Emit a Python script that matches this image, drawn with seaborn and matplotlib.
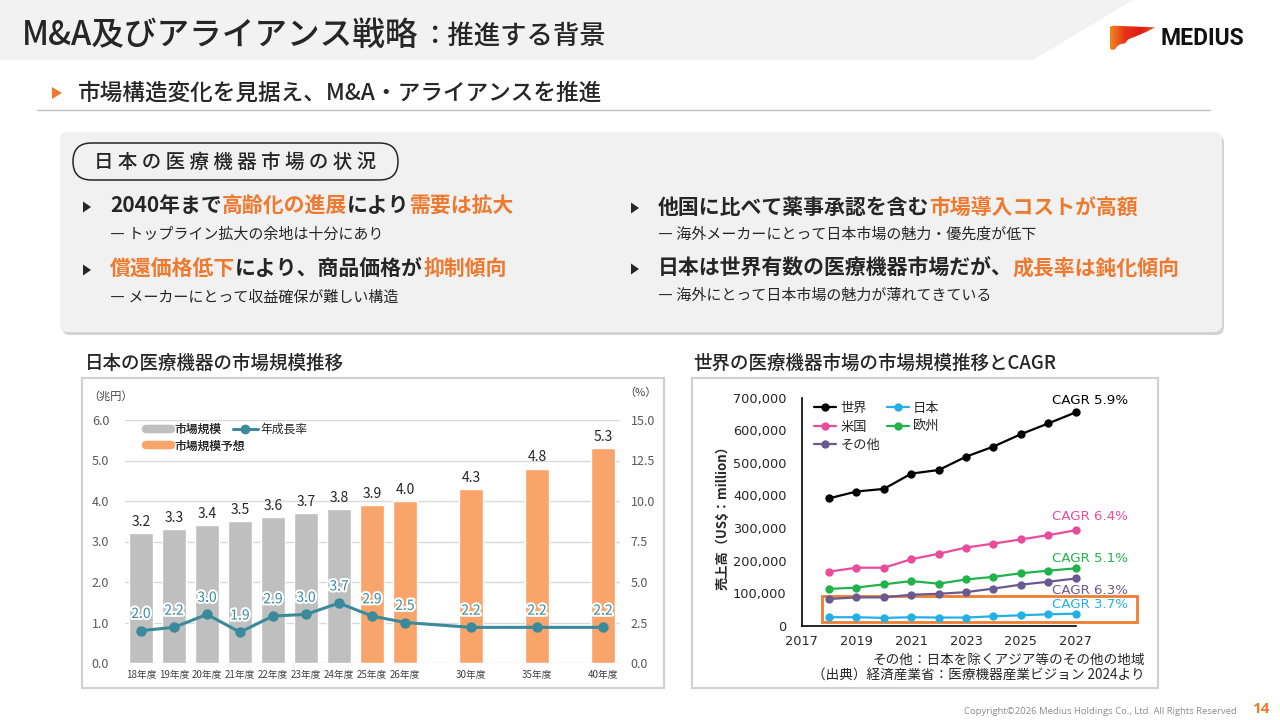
import numpy as np
import pandas as pd
import matplotlib
matplotlib.use("Agg")
import matplotlib.pyplot as plt
import seaborn as sns
from matplotlib.patches import Polygon, FancyBboxPatch, Rectangle
from matplotlib.lines import Line2D
from matplotlib.colors import LinearSegmentedColormap
import matplotlib.patheffects as pe
from matplotlib.ticker import FuncFormatter, FixedLocator

# ---------------- data ----------------
jp_fy_labels = ["18年度", "19年度", "20年度", "21年度", "22年度", "23年度", "24年度",
                "25年度", "26年度", "30年度", "35年度", "40年度"]
jp_market_size = [3.2, 3.3, 3.4, 3.5, 3.6, 3.7, 3.8, 3.9, 4.0, 4.3, 4.8, 5.3]   # 兆円
jp_growth = [2.0, 2.2, 3.0, 1.9, 2.9, 3.0, 3.7, 2.9, 2.5, 2.2, 2.2, 2.2]        # %
jp_kind = ["市場規模"] * 7 + ["市場規模予想"] * 5

world_years = [2018, 2019, 2020, 2021, 2022, 2023, 2024, 2025, 2026, 2027]
world_total = [391000, 412000, 420000, 467000, 478000, 519000, 550000, 588000, 621000, 655000]
us_sales = [166000, 178000, 178000, 204000, 221000, 240000, 252000, 265000, 278000, 293000]
eu_sales = [113000, 117000, 127000, 137000, 129000, 142000, 150000, 161000, 169000, 176000]
other_sales = [82000, 87000, 87000, 95000, 98000, 103000, 114000, 126000, 135000, 145000]
japan_sales = [26000, 26000, 24000, 26000, 25000, 25000, 29000, 32000, 35000, 37000]
region_names = ["世界", "米国", "その他", "日本", "欧州"]
cagr_labels = ["CAGR 5.9%", "CAGR 6.4%", "CAGR 5.1%", "CAGR 6.3%", "CAGR 3.7%"]

# ---------------- layout / style ----------------
bar_slots = [0, 1, 2, 3, 4, 5, 6, 7, 8, 10, 12, 14]
W, H = 1280, 720
ORANGE = "#ee7a30"
DARK = "#262626"
TEAL = "#3a8a9c"
GRAY_BAR = "#bfbfbf"
ORANGE_BAR = "#f8a46a"
region_colors = {"世界": "#000000", "米国": "#ea4c9c", "その他": "#6a5a90",
                 "日本": "#22b0e6", "欧州": "#22b24c"}

sns.set_theme(style="white")
plt.rcParams["font.family"] = ["Noto Sans CJK JP", "DejaVu Sans"]
plt.rcParams["axes.unicode_minus"] = False

fig = plt.figure(figsize=(12.8, 7.2), dpi=100)
fig.patch.set_facecolor("white")
bg = fig.add_axes([0, 0, 1, 1])
bg.set_xlim(0, W)
bg.set_ylim(H, 0)
bg.axis("off")
renderer = fig.canvas.get_renderer()


def rect(x0, y0, x1, y1):
    return [x0 / W, 1 - y1 / H, (x1 - x0) / W, (y1 - y0) / H]


def chain(x, y, parts, **kw):
    for s, color in parts:
        t = bg.text(x, y, s, color=color, va="center", ha="left", **kw)
        bb = t.get_window_extent(renderer=renderer)
        x = bb.x1
    return x


# header band
bg.add_patch(Polygon([(0, 0), (1133, 0), (1033, 60), (0, 60)], closed=True,
                     fc="#f2f2f2", ec="none"))
x_after = chain(22, 35, [("M&A及びアライアンス戦略", DARK)], fontsize=23.5, fontweight=500)
bg.text(x_after + 3, 36, "：推進する背景", fontsize=19, fontweight=500, color=DARK,
        va="center", ha="left")

# logo
logo = Polygon([(1110, 26.7), (1113, 25.7), (1155, 27.3), (1146.7, 31.7), (1136.7, 36),
                (1128.3, 39.3), (1125, 43.3), (1120, 44.3), (1116.7, 46.7), (1115, 49.3),
                (1111.7, 50), (1110, 48.3)], closed=True, fc="none", ec="none")
bg.add_patch(logo)
grad = np.linspace(0, 1, 256).reshape(1, -1)
cm = LinearSegmentedColormap.from_list("lg", ["#f08a1c", "#e8301a", "#e21a14", "#ec5a1e"])
im = bg.imshow(grad, extent=(1110, 1156, 51, 25), cmap=cm, aspect="auto", zorder=2)
im.set_clip_path(logo)
bg.set_xlim(0, W)
bg.set_ylim(H, 0)
bg.text(1160, 38.5, "MEDIUS", fontsize=16.5, fontweight="bold", family="Roboto",
        color="#111111", va="center", ha="left")

# sub heading
bg.add_patch(Polygon([(52, 87), (62, 93), (52, 99)], closed=True, fc=ORANGE, ec="none"))
bg.text(78, 93, "市場構造変化を見据え、M&A・アライアンスを推進", fontsize=16.3, fontweight=500,
        color=DARK, va="center", ha="left")
bg.plot([37, 1210], [110, 110], color="#bfbfbf", lw=1)

# grey information box
bg.add_patch(FancyBboxPatch((62, 135), 1162, 200, boxstyle="round,pad=0,rounding_size=8",
                            fc="#c9c9c9", ec="none", alpha=0.8))
bg.add_patch(FancyBboxPatch((60, 132), 1162, 200, boxstyle="round,pad=0,rounding_size=8",
                            fc="#f1f1f1", ec="none"))
bg.add_patch(FancyBboxPatch((73, 143), 325, 37, boxstyle="round,pad=0,rounding_size=18.5",
                            fc="none", ec=DARK, lw=1.1))
bg.text(235, 162, "日 本 の 医 療 機 器 市 場 の 状 況", fontsize=14, fontweight=500,
        color=DARK, ha="center", va="center")


def tri(x, y):
    bg.add_patch(Polygon([(x, y - 5.5), (x + 8, y), (x, y + 5.5)], closed=True,
                         fc=DARK, ec="none"))


BFS = 15.0
SFS = 10.8
BW = "bold"
tri(83, 207)
chain(110, 206, [("2040年まで", DARK), ("高齢化の進展", ORANGE), ("により", DARK),
                 ("需要は拡大", ORANGE)], fontsize=BFS, fontweight=BW)
bg.text(110, 235, "― トップライン拡大の余地は十分にあり", fontsize=SFS, color=DARK,
        va="center", ha="left")
tri(83, 270)
chain(110, 269, [("償還価格低下", ORANGE), ("により、商品価格が", DARK),
                 ("抑制傾向", ORANGE)], fontsize=BFS, fontweight=BW)
bg.text(110, 298, "― メーカーにとって収益確保が難しい構造", fontsize=SFS, color=DARK,
        va="center", ha="left")

tri(631, 208)
chain(658, 207, [("他国に比べて薬事承認を含む", DARK), ("市場導入コストが高額", ORANGE)],
      fontsize=BFS, fontweight=BW)
bg.text(658, 234, "― 海外メーカーにとって日本市場の魅力・優先度が低下", fontsize=SFS,
        color=DARK, va="center", ha="left")
tri(631, 269)
chain(658, 268, [("日本は世界有数の医療機器市場だが、", DARK), ("成長率は鈍化傾向", ORANGE)],
      fontsize=BFS, fontweight=BW)
bg.text(658, 296, "― 海外にとって日本市場の魅力が薄れてきている", fontsize=SFS,
        color=DARK, va="center", ha="left")

# chart titles and frames
bg.text(85, 363, "日本の医療機器の市場規模推移", fontsize=13.3, fontweight=500, color=DARK,
        va="center", ha="left")
bg.text(693, 363, "世界の医療機器市場の市場規模推移とCAGR", fontsize=13.3, fontweight=500,
        color=DARK, va="center", ha="left")
bg.add_patch(Rectangle((82, 378), 582, 310, fc="white", ec="#d0d0d0", lw=1.5))
bg.add_patch(Rectangle((692, 378), 466, 310, fc="white", ec="#d0d0d0", lw=1.5))

# footer
bg.text(1237, 711, "Copyright©2026 Medius Holdings Co., Ltd. All Rights Reserved", fontsize=6.8,
        color="#8c8c8c", ha="right", va="center", family="Open Sans")
bg.text(1252, 709, "14", fontsize=11, fontweight="bold", color=ORANGE, ha="left",
        va="center", family="Open Sans")

# ---------------- left chart ----------------
ax = fig.add_axes(rect(124.5, 420, 619.5, 663))
ax.set_facecolor("none")
df_jp = pd.DataFrame({"slot": bar_slots, "size": jp_market_size, "kind": jp_kind})
sns.barplot(data=df_jp, x="slot", y="size", hue="kind", native_scale=True, dodge=False,
            width=0.7, palette={"市場規模": GRAY_BAR, "市場規模予想": ORANGE_BAR},
            saturation=1, errorbar=None, legend=False, ax=ax, zorder=2)
for cont in ax.containers:
    ax.bar_label(cont, fmt="%.1f", padding=3, fontsize=10, color=DARK)
ax.set_xlim(-0.5, 14.5)
ax.set_ylim(0, 6)
ax.set_yticks(np.arange(0, 6.01, 1.0))
ax.yaxis.set_major_formatter(FuncFormatter(lambda v, p: f"{v:.1f}"))
ax.set_xticks(bar_slots)
ax.set_xticklabels(jp_fy_labels, fontsize=7, color="#404040")
ax.tick_params(axis="y", length=0, pad=11, labelsize=9, labelcolor="#595959")
ax.tick_params(axis="x", length=0, pad=5)
ax.grid(axis="y", color="#d9d9d9", lw=1, zorder=0)
ax.grid(axis="x", visible=False)
for s in ax.spines.values():
    s.set_visible(False)
ax.set_xlabel("")
ax.set_ylabel("")

ax2 = ax.twinx()
ax2.set_facecolor("none")
sns.lineplot(x=bar_slots, y=jp_growth, ax=ax2, color=TEAL, lw=2.2, marker="o",
             markersize=7.5, markeredgewidth=0, zorder=3)
ax2.set_ylim(0, 15)
ax2.set_yticks(np.arange(0, 15.01, 2.5))
ax2.yaxis.set_major_formatter(FuncFormatter(lambda v, p: f"{v:.1f}"))
ax2.tick_params(axis="y", length=0, pad=8, labelsize=9, labelcolor="#595959")
ax2.grid(False)
for s in ax2.spines.values():
    s.set_visible(False)
for xs, g in zip(bar_slots, jp_growth):
    ax2.annotate(f"{g:.1f}", (xs, g), xytext=(0, 12), textcoords="offset points",
                 ha="center", va="center", fontsize=10, color=TEAL,
                 path_effects=[pe.withStroke(linewidth=3, foreground="white")], zorder=5)
ax.set_xlim(-0.5, 14.5)

bg.text(111, 396, "（兆円）", fontsize=8, color="#404040", ha="center", va="center")
bg.text(640, 393, "（%）", fontsize=8, color="#404040", ha="center", va="center")

leg_top = 1 - (423 - 420) / 243
leg1 = ax.legend(handles=[Line2D([], [], color=GRAY_BAR, lw=6),
                          Line2D([], [], color=ORANGE_BAR, lw=6)],
                 labels=["市場規模", "市場規模予想"], loc="upper left",
                 bbox_to_anchor=((146 - 124.5) / 495, leg_top),
                 frameon=False, fontsize=8.5, handlelength=2.1, handletextpad=0.3,
                 labelspacing=0.3, borderaxespad=0, borderpad=0)
ax.add_artist(leg1)
leg2 = ax2.legend(handles=[Line2D([], [], color=TEAL, lw=2.2, marker="o", markersize=6)],
                  labels=["年成長率"], loc="upper left",
                  bbox_to_anchor=((233 - 124.5) / 495, leg_top),
                  frameon=False, fontsize=8.5, handlelength=2.1, handletextpad=0.2,
                  borderaxespad=0, borderpad=0)

# ---------------- right chart ----------------
axr = fig.add_axes(rect(801.7, 397.7, 1075.7, 625.7))
axr.set_facecolor("none")
series = [world_total, us_sales, other_sales, japan_sales, eu_sales]
df_w = pd.DataFrame({
    "year": np.tile(world_years, len(region_names)),
    "sales": np.concatenate(series),
    "region": np.repeat(region_names, len(world_years)),
})
sns.lineplot(data=df_w, x="year", y="sales", hue="region", hue_order=region_names,
             palette=region_colors, marker="o", markersize=6, markeredgewidth=0,
             lw=1.6, clip_on=False, ax=axr, legend=False)
axr.set_xlim(2017, 2027)
axr.set_ylim(0, 700000)
axr.xaxis.set_major_locator(FixedLocator([2017, 2019, 2021, 2023, 2025, 2027]))
axr.yaxis.set_major_locator(FixedLocator(np.arange(0, 700001, 100000)))
axr.yaxis.set_major_formatter(FuncFormatter(lambda v, p: f"{v:,.0f}"))
for s in ["top", "right"]:
    axr.spines[s].set_visible(False)
for s in ["left", "bottom"]:
    axr.spines[s].set_color("black")
    axr.spines[s].set_linewidth(1.2)
axr.tick_params(axis="both", direction="in", length=5, width=1, colors="black",
                labelsize=9.3, labelfontfamily="DejaVu Sans")
axr.tick_params(axis="y", pad=11)
axr.tick_params(axis="x", pad=7)
axr.grid(False)
axr.set_xlabel("")
axr.set_ylabel("")
for lab in axr.get_xticklabels() + axr.get_yticklabels():
    lab.set_color(DARK)

handles = [Line2D([], [], color=region_colors[r], lw=1.6, marker="o", markersize=6,
                  markeredgewidth=0) for r in region_names]
axr.legend(handles=handles, labels=region_names, ncol=2, loc="upper left",
           bbox_to_anchor=((814 - 801.7) / 274, 1.0 - (402 - 397.7) / 228),
           frameon=False, fontsize=9.5, handlelength=1.7, handletextpad=0.3,
           columnspacing=0.5, labelspacing=0.42, borderaxespad=0, borderpad=0)

cagr_y = [401, 516.7, 559, 590, 604.7]
cagr_cols = [region_colors["世界"], region_colors["米国"], region_colors["欧州"],
             region_colors["その他"], region_colors["日本"]]
for lab, yy, cc in zip(cagr_labels, cagr_y, cagr_cols):
    bg.text(1128, yy, lab, fontsize=9.6, color=cc, ha="right", va="center",
            family="DejaVu Sans")

bg.add_patch(Rectangle((821.7, 596), 315, 26.3, fc="none", ec="#ed7d31", lw=2, zorder=5))

bg.text(723, 515, "売上高（US$：million）", fontsize=9.5, fontweight="bold", color=DARK,
        rotation=90, ha="center", va="center")
bg.text(1145, 660, "その他：日本を除くアジア等のその他の地域", fontsize=9.8, color=DARK,
        ha="right", va="center")
bg.text(1145, 676, "（出典）経済産業省：医療機器産業ビジョン 2024より", fontsize=9.8,
        color=DARK, ha="right", va="center")

fig.savefig("out.png", dpi=100, facecolor="white")
